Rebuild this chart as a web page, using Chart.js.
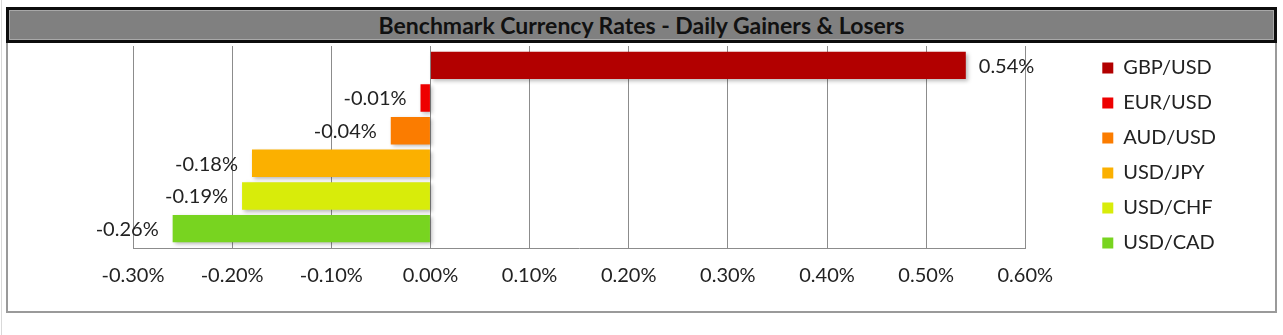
<!DOCTYPE html>
<html>
<head>
<meta charset="utf-8">
<title>Benchmark Currency Rates</title>
<script src="https://cdn.jsdelivr.net/npm/chart.js@4/dist/chart.umd.min.js"></script>
<style>
  html, body { margin: 0; padding: 0; background: #fff; }
  body { width: 1283px; height: 335px; position: relative; overflow: hidden; font-family: Lato, sans-serif; }
  #edge { position: absolute; left: 1px; top: 0; width: 1px; height: 335px; background: #d9d9d9; }
  #frame { position: absolute; left: 6px; top: 43px; width: 1267px; height: 268px; border: 2px solid #9a9a9a; border-top: none; }
  #chart { position: absolute; left: 0; top: 0; }
  #title {
    position: absolute; left: 6px; top: 7px; width: 1265px; height: 30px;
    border: 3px solid #0d0d0d; background: #808080;
    box-shadow: inset 0 0 0 1px #a8a8a8;
    color: #111; font: bold 23px Lato, sans-serif;
    line-height: 30px; text-align: center;
  }
</style>
</head>
<body>
<div id="edge"></div>
<div id="frame"></div>
<canvas id="chart" width="1283" height="335"></canvas>
<div id="title">Benchmark Currency Rates - Daily Gainers &amp; Losers</div>

<script>
// ===============================
// DATA
// ===============================
const pairs = ["GBP/USD", "EUR/USD", "AUD/USD", "USD/JPY", "USD/CHF", "USD/CAD"];
const changes = [0.54, -0.01, -0.04, -0.18, -0.19, -0.26]; // % daily change
const colors = ["#b20000", "#ee0000", "#fb7c00", "#fbb000", "#d8ec0a", "#78d420"];
const xTicks = [-0.30, -0.20, -0.10, 0.00, 0.10, 0.20, 0.30, 0.40, 0.50, 0.60];

Chart.defaults.font.family = "Lato, sans-serif";
Chart.defaults.font.size = 20;
Chart.defaults.color = "#222";

const fmt = v => v.toFixed(2) + "%";

// ===============================
// VALUE LABELS + BAR SHADOW
// ===============================
const barLabels = {
  id: "barLabels",
  beforeDatasetsDraw(chart) {
    const ctx = chart.ctx;
    ctx.save();
    ctx.shadowColor = "rgba(0,0,0,0.28)";
    ctx.shadowBlur = 4;
    ctx.shadowOffsetX = 2;
    ctx.shadowOffsetY = 2;
  },
  afterDatasetsDraw(chart) {
    const ctx = chart.ctx;
    ctx.restore();
    ctx.save();
    ctx.font = "20px Lato, sans-serif";
    ctx.fillStyle = "#222";
    ctx.textBaseline = "middle";
    chart.data.datasets.forEach((ds, i) => {
      const meta = chart.getDatasetMeta(i);
      meta.data.forEach((bar, j) => {
        const v = ds.data[j];
        if (v >= 0) {
          ctx.textAlign = "left";
          ctx.fillText(fmt(v), bar.x + 13, bar.y + 1);
        } else {
          ctx.textAlign = "right";
          ctx.fillText(fmt(v), bar.x - 14, bar.y + 1);
        }
      });
    });
    ctx.restore();
  }
};

// ===============================
// CHART
// ===============================
const chart = new Chart(document.getElementById("chart"), {
  type: "bar",
  data: {
    labels: ["Daily change"],
    datasets: pairs.map((p, i) => ({
      label: p,
      data: [changes[i]],
      backgroundColor: colors[i],
      borderWidth: 0,
      categoryPercentage: 0.97,
      barPercentage: 0.84
    }))
  },
  options: {
    indexAxis: "y",
    responsive: false,
    animation: false,
    devicePixelRatio: 1,
    layout: { padding: { top: 43, left: 133, right: 57, bottom: 31 } },
    plugins: {
      legend: {
        position: "right",
        align: "start",
        labels: { boxWidth: 11, boxHeight: 11, padding: 15, color: "#222", font: { size: 20 } }
      },
      tooltip: { enabled: false }
    },
    scales: {
      x: {
        min: xTicks[0],
        max: xTicks[xTicks.length - 1],
        afterBuildTicks: s => { s.ticks = xTicks.map(v => ({ value: v })); },
        grid: { color: "#8c8c8c", drawTicks: false },
        border: { color: "#8c8c8c" },
        ticks: { padding: 16, callback: v => fmt(v) }
      },
      y: { display: false },
      // spacers: keep the plot below the title and clear of the legend
      xTop: {
        type: "linear", position: "top",
        grid: { display: false }, border: { display: false }, ticks: { display: false },
        afterFit: s => { s.height = 3; }
      },
      yRight: {
        type: "category", position: "right",
        grid: { display: false }, border: { display: false }, ticks: { display: false },
        afterFit: s => { s.width = 62; }
      }
    }
  },
  plugins: [barLabels]
});
</script>
</body>
</html>
